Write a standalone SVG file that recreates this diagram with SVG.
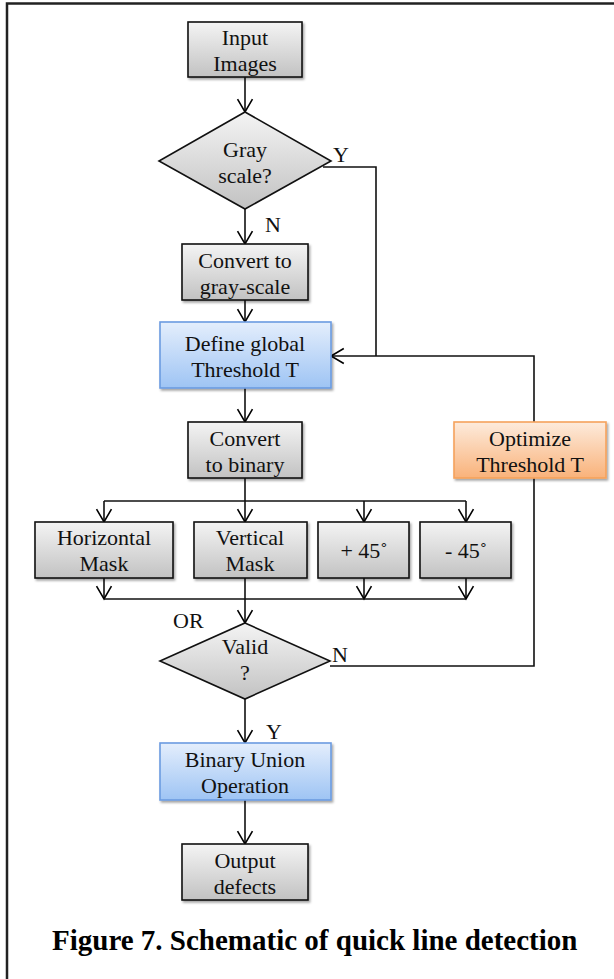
<svg xmlns="http://www.w3.org/2000/svg" width="614" height="979" viewBox="0 0 614 979">
<defs>
<linearGradient id="gGray" x1="0" y1="0" x2="0" y2="1"><stop offset="0" stop-color="#f4f4f4"/><stop offset="1" stop-color="#c2c2c2"/></linearGradient>
<linearGradient id="gBlue" x1="0" y1="0" x2="0" y2="1"><stop offset="0" stop-color="#e4eefc"/><stop offset="1" stop-color="#9ec4f4"/></linearGradient>
<linearGradient id="gOrange" x1="0" y1="0" x2="0" y2="1"><stop offset="0" stop-color="#fdebdc"/><stop offset="1" stop-color="#f9b27a"/></linearGradient>
<filter id="sh" x="-10%" y="-10%" width="125%" height="130%"><feDropShadow dx="1.5" dy="2" stdDeviation="1.3" flood-color="#000" flood-opacity="0.35"/></filter>
<marker id="arr" markerUnits="userSpaceOnUse" markerWidth="16" markerHeight="18" refX="12" refY="7" orient="auto" viewBox="-1 -1 15 16"><path d="M0,0 L12,7 L0,14" fill="none" stroke="#000" stroke-width="1.5"/></marker>
</defs>
<style>
.t{font-family:"Liberation Serif","Times New Roman",serif;font-size:22px;fill:#111;text-anchor:middle}
.l{font-family:"Liberation Serif","Times New Roman",serif;font-size:22px;fill:#111}
.gray{fill:url(#gGray);stroke:#111;stroke-width:1.6;filter:url(#sh)}
.blue{fill:url(#gBlue);stroke:#6b9be0;stroke-width:1.6;filter:url(#sh)}
.orange{fill:url(#gOrange);stroke:#f5a25c;stroke-width:1.6;filter:url(#sh)}
.dia{fill:url(#gGray);stroke:#111;stroke-width:1.6}
.c{fill:none;stroke:#111;stroke-width:1.6}
.a{marker-end:url(#arr)}
.cap{font-family:"Liberation Serif","Times New Roman",serif;font-size:29px;font-weight:bold;fill:#000}
</style>
<rect width="614" height="979" fill="#fff"/>
<path d="M7,979 V3.5 H614" fill="none" stroke="#222" stroke-width="2.5"/>

<g id="connectors">
<path class="c a" d="M245,77 V112"/>
<path class="c a" d="M245,209 V244"/>
<path class="c" d="M323,167 H376 V356"/>
<path class="c a" d="M245,300 V322"/>
<path class="c a" d="M534,422 V356 H331"/>
<path class="c a" d="M245,388 V422"/>
<path class="c a" d="M245,478 V522"/>
<path class="c" d="M104,501 H466"/>
<path class="c a" d="M104,501 V522"/>
<path class="c a" d="M364,501 V522"/>
<path class="c a" d="M466,501 V522"/>
<path class="c a" d="M104,578 V599"/>
<path class="c a" d="M364,578 V599"/>
<path class="c a" d="M466,578 V599"/>
<path class="c" d="M104,599 H466"/>
<path class="c a" d="M245,578 V623"/>
<path class="c" d="M330,666 H534 V478"/>
<path class="c a" d="M245,699 V743"/>
<path class="c a" d="M245,800 V844"/>
<text class="l" x="333" y="162">Y</text>
<text class="l" x="265" y="232">N</text>
<text class="l" x="173" y="628">OR</text>
<text class="l" x="332" y="662">N</text>
<text class="l" x="266" y="739">Y</text>
</g>

<g id="input"><rect class="gray" x="188" y="22" width="114" height="55"/><text class="t" x="245" y="45">Input</text><text class="t" x="245" y="71">Images</text></g>
<g id="grayscale"><polygon class="dia" points="245,112 331,161 245,209 159,161"/><text class="t" x="245" y="157">Gray</text><text class="t" x="245" y="183">scale?</text></g>
<g id="convertgray"><rect class="gray" x="182" y="244" width="126" height="56"/><text class="t" x="245" y="268">Convert to</text><text class="t" x="245" y="294">gray-scale</text></g>
<g id="define"><rect class="blue" x="160" y="322" width="171" height="66"/><text class="t" x="245" y="351">Define global</text><text class="t" x="245" y="377">Threshold T</text></g>
<g id="optimize"><rect class="orange" x="454" y="422" width="152" height="56"/><text class="t" x="530" y="446">Optimize</text><text class="t" x="530" y="472">Threshold T</text></g>
<g id="convertbinary"><rect class="gray" x="188" y="422" width="114" height="56"/><text class="t" x="245" y="446">Convert</text><text class="t" x="245" y="472">to binary</text></g>
<g id="hmask"><rect class="gray" x="35" y="522" width="138" height="56"/><text class="t" x="104" y="545">Horizontal</text><text class="t" x="104" y="571">Mask</text></g>
<g id="vmask"><rect class="gray" x="194" y="522" width="113" height="56"/><text class="t" x="250" y="545">Vertical</text><text class="t" x="250" y="571">Mask</text></g>
<g id="p45"><rect class="gray" x="318" y="522" width="91" height="56"/><text class="t" x="364" y="558">+ 45˚</text></g>
<g id="m45"><rect class="gray" x="420" y="522" width="91" height="56"/><text class="t" x="466" y="558">- 45˚</text></g>
<g id="valid"><polygon class="dia" points="245,623 330,661 245,699 160,661"/><text class="t" x="245" y="654">Valid</text><text class="t" x="245" y="680">?</text></g>
<g id="union"><rect class="blue" x="160" y="743" width="171" height="57"/><text class="t" x="245" y="767">Binary Union</text><text class="t" x="245" y="793">Operation</text></g>
<g id="output"><rect class="gray" x="182" y="844" width="126" height="56"/><text class="t" x="245" y="868">Output</text><text class="t" x="245" y="894">defects</text></g>
<text class="cap" x="52" y="950">Figure 7. Schematic of quick line detection</text>
</svg>
